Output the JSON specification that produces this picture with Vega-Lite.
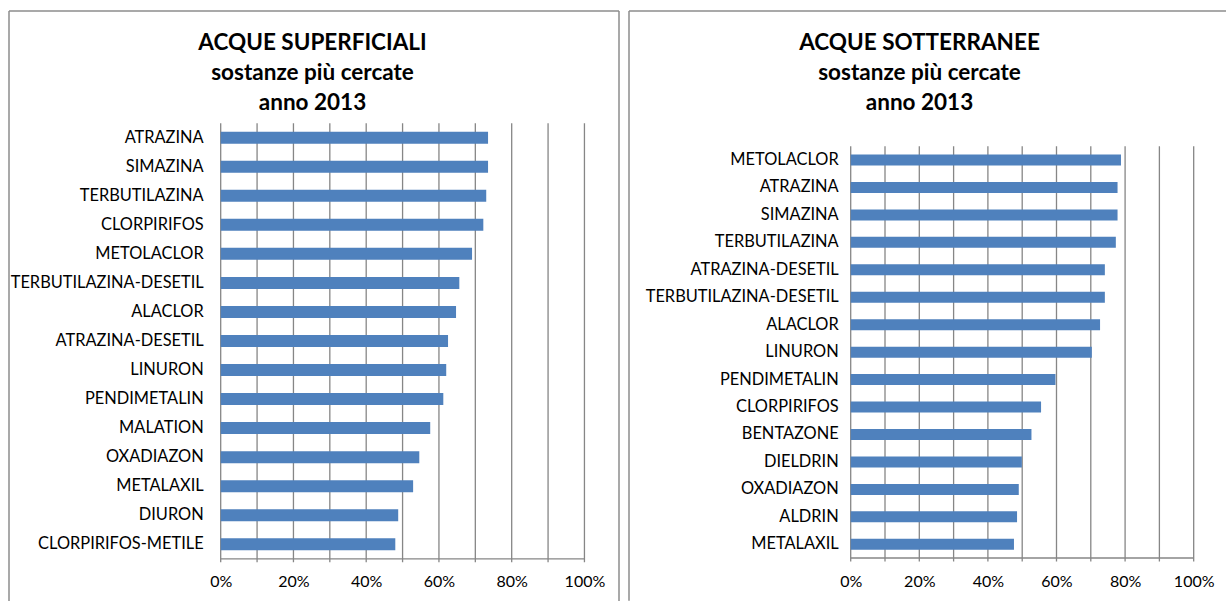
{
  "$schema": "https://vega.github.io/schema/vega-lite/v6.json",
  "padding": {"left": 8, "top": 10, "right": 0, "bottom": 0},
  "spacing": 10,
  "bounds": "flush",
  "background": "white",
  "config": {"view": {"stroke": null}, "font": "Lato"},
  "datasets": {
    "sup": [
      {"name": "ATRAZINA", "value": 0.735, "rank": 1},
      {"name": "SIMAZINA", "value": 0.735, "rank": 2},
      {"name": "TERBUTILAZINA", "value": 0.730, "rank": 3},
      {"name": "CLORPIRIFOS", "value": 0.722, "rank": 4},
      {"name": "METOLACLOR", "value": 0.691, "rank": 5},
      {"name": "TERBUTILAZINA-DESETIL", "value": 0.656, "rank": 6},
      {"name": "ALACLOR", "value": 0.647, "rank": 7},
      {"name": "ATRAZINA-DESETIL", "value": 0.625, "rank": 8},
      {"name": "LINURON", "value": 0.620, "rank": 9},
      {"name": "PENDIMETALIN", "value": 0.612, "rank": 10},
      {"name": "MALATION", "value": 0.576, "rank": 11},
      {"name": "OXADIAZON", "value": 0.546, "rank": 12},
      {"name": "METALAXIL", "value": 0.529, "rank": 13},
      {"name": "DIURON", "value": 0.488, "rank": 14},
      {"name": "CLORPIRIFOS-METILE", "value": 0.480, "rank": 15}
    ],
    "sot": [
      {"name": "METOLACLOR", "value": 0.788, "rank": 1},
      {"name": "ATRAZINA", "value": 0.778, "rank": 2},
      {"name": "SIMAZINA", "value": 0.778, "rank": 3},
      {"name": "TERBUTILAZINA", "value": 0.773, "rank": 4},
      {"name": "ATRAZINA-DESETIL", "value": 0.741, "rank": 5},
      {"name": "TERBUTILAZINA-DESETIL", "value": 0.741, "rank": 6},
      {"name": "ALACLOR", "value": 0.727, "rank": 7},
      {"name": "LINURON", "value": 0.703, "rank": 8},
      {"name": "PENDIMETALIN", "value": 0.597, "rank": 9},
      {"name": "CLORPIRIFOS", "value": 0.555, "rank": 10},
      {"name": "BENTAZONE", "value": 0.527, "rank": 11},
      {"name": "DIELDRIN", "value": 0.499, "rank": 12},
      {"name": "OXADIAZON", "value": 0.490, "rank": 13},
      {"name": "ALDRIN", "value": 0.485, "rank": 14},
      {"name": "METALAXIL", "value": 0.476, "rank": 15}
    ],
    "grid": [
      {"g": 0}, {"g": 0.1}, {"g": 0.2}, {"g": 0.3}, {"g": 0.4}, {"g": 0.5},
      {"g": 0.6}, {"g": 0.7}, {"g": 0.8}, {"g": 0.9}, {"g": 1}
    ],
    "one": [{}]
  },
  "hconcat": [
    {
      "width": 610,
      "height": 547.8,
      "title": {
        "text": ["ACQUE SUPERFICIALI", "sostanze più cercate", "anno 2013"],
        "font": "Lato", "fontSize": 22.5, "fontWeight": "bold", "lineHeight": 30,
        "color": "black", "offset": -104, "frame": "group", "anchor": "middle", "dx": -1.5
      },
      "layer": [
        {
          "data": {"name": "grid"},
          "mark": {"type": "rule", "color": "#868686", "strokeWidth": 1.3},
          "encoding": {
            "x": {"field": "g", "type": "quantitative",
              "scale": {"domain": [-0.582, 1.095], "nice": false, "zero": false},
              "axis": {"values": [0, 0.2, 0.4, 0.6, 0.8, 1], "format": ".0%", "grid": false, "ticks": false,
                "domain": false, "labelFont": "Lato", "labelFontSize": 16, "labelColor": "black",
                "labelPadding": 15, "title": null}},
            "y": {"datum": 0.5, "type": "quantitative",
              "scale": {"domain": [-3.363, 15.5], "reverse": true, "nice": false, "zero": false, "padding": 0}, "axis": null},
            "y2": {"datum": 15.62}
          }
        },
        {
          "data": {"name": "one"},
          "mark": {"type": "rule", "color": "#868686", "strokeWidth": 1.3},
          "encoding": {
            "x": {"datum": 0, "type": "quantitative", "scale": {"domain": [-0.582, 1.095], "nice": false, "zero": false}},
            "x2": {"datum": 1},
            "y": {"datum": 15.5, "type": "quantitative", "scale": {"domain": [-3.363, 15.5], "reverse": true, "nice": false, "zero": false, "padding": 0}, "axis": null}
          }
        },
        {
          "data": {"name": "sup"},
          "mark": {"type": "bar", "orient": "horizontal", "size": 12, "color": "#4f81bd"},
          "encoding": {
            "x": {"field": "value", "type": "quantitative", "scale": {"domain": [-0.582, 1.095], "nice": false, "zero": false}},
            "x2": {"datum": 0},
            "y": {"field": "rank", "type": "quantitative", "scale": {"domain": [-3.363, 15.5], "reverse": true, "nice": false, "zero": false, "padding": 0}, "axis": null}
          }
        },
        {
          "data": {"name": "sup"},
          "mark": {"type": "text", "align": "right", "baseline": "middle", "dx": -17, "font": "Lato", "fontSize": 16.4, "color": "black"},
          "encoding": {
            "x": {"datum": 0, "type": "quantitative", "scale": {"domain": [-0.582, 1.095], "nice": false, "zero": false}},
            "y": {"field": "rank", "type": "quantitative", "scale": {"domain": [-3.363, 15.5], "reverse": true, "nice": false, "zero": false, "padding": 0}, "axis": null},
            "text": {"field": "name"}
          }
        },
        {
          "data": {"name": "one"},
          "mark": {"type": "rule", "color": "#8c8c8c", "strokeWidth": 1.5},
          "encoding": {
            "x": {"datum": -0.582, "type": "quantitative", "scale": {"domain": [-0.582, 1.095], "nice": false, "zero": false}},
            "y": {"datum": -3.363, "type": "quantitative", "scale": {"domain": [-3.363, 15.5], "reverse": true, "nice": false, "zero": false, "padding": 0}, "axis": null},
            "y2": {"datum": 16.95}
          }
        },
        {
          "data": {"name": "one"},
          "mark": {"type": "rule", "color": "#8c8c8c", "strokeWidth": 1.5},
          "encoding": {
            "x": {"datum": 1.095, "type": "quantitative", "scale": {"domain": [-0.582, 1.095], "nice": false, "zero": false}},
            "y": {"datum": -3.363, "type": "quantitative", "scale": {"domain": [-3.363, 15.5], "reverse": true, "nice": false, "zero": false, "padding": 0}, "axis": null},
            "y2": {"datum": 16.95}
          }
        },
        {
          "data": {"name": "one"},
          "mark": {"type": "rule", "color": "#8c8c8c", "strokeWidth": 1.5},
          "encoding": {
            "x": {"datum": -0.582, "type": "quantitative", "scale": {"domain": [-0.582, 1.095], "nice": false, "zero": false}},
            "x2": {"datum": 1.095},
            "y": {"datum": -3.363, "type": "quantitative", "scale": {"domain": [-3.363, 15.5], "reverse": true, "nice": false, "zero": false, "padding": 0}, "axis": null}
          }
        }
      ]
    },
    {
      "width": 597,
      "height": 547,
      "title": {
        "text": ["ACQUE SOTTERRANEE", "sostanze più cercate", "anno 2013"],
        "font": "Lato", "fontSize": 22.5, "fontWeight": "bold", "lineHeight": 30,
        "color": "black", "offset": -104, "frame": "group", "anchor": "middle", "dx": -8
      },
      "layer": [
        {
          "data": {"name": "grid"},
          "mark": {"type": "rule", "color": "#868686", "strokeWidth": 1.3},
          "encoding": {
            "x": {"field": "g", "type": "quantitative",
              "scale": {"domain": [-0.6464, 1.0942], "nice": false, "zero": false},
              "axis": {"values": [0, 0.2, 0.4, 0.6, 0.8, 1], "format": ".0%", "grid": false, "ticks": false,
                "domain": false, "labelFont": "Lato", "labelFontSize": 16, "labelColor": "black",
                "labelPadding": 15, "title": null}},
            "y": {"datum": 0.5, "type": "quantitative",
              "scale": {"domain": [-4.428, 15.5], "reverse": true, "nice": false, "zero": false, "padding": 0}, "axis": null},
            "y2": {"datum": 15.63}
          }
        },
        {
          "data": {"name": "one"},
          "mark": {"type": "rule", "color": "#868686", "strokeWidth": 1.3},
          "encoding": {
            "x": {"datum": 0, "type": "quantitative", "scale": {"domain": [-0.6464, 1.0942], "nice": false, "zero": false}},
            "x2": {"datum": 1},
            "y": {"datum": 15.5, "type": "quantitative", "scale": {"domain": [-4.428, 15.5], "reverse": true, "nice": false, "zero": false, "padding": 0}, "axis": null}
          }
        },
        {
          "data": {"name": "sot"},
          "mark": {"type": "bar", "orient": "horizontal", "size": 11, "color": "#4f81bd"},
          "encoding": {
            "x": {"field": "value", "type": "quantitative", "scale": {"domain": [-0.6464, 1.0942], "nice": false, "zero": false}},
            "x2": {"datum": 0},
            "y": {"field": "rank", "type": "quantitative", "scale": {"domain": [-4.428, 15.5], "reverse": true, "nice": false, "zero": false, "padding": 0}, "axis": null}
          }
        },
        {
          "data": {"name": "sot"},
          "mark": {"type": "text", "align": "right", "baseline": "middle", "dx": -12, "font": "Lato", "fontSize": 16.4, "color": "black"},
          "encoding": {
            "x": {"datum": 0, "type": "quantitative", "scale": {"domain": [-0.6464, 1.0942], "nice": false, "zero": false}},
            "y": {"field": "rank", "type": "quantitative", "scale": {"domain": [-4.428, 15.5], "reverse": true, "nice": false, "zero": false, "padding": 0}, "axis": null},
            "text": {"field": "name"}
          }
        },
        {
          "data": {"name": "one"},
          "mark": {"type": "rule", "color": "#8c8c8c", "strokeWidth": 1.5},
          "encoding": {
            "x": {"datum": -0.6464, "type": "quantitative", "scale": {"domain": [-0.6464, 1.0942], "nice": false, "zero": false}},
            "y": {"datum": -4.428, "type": "quantitative", "scale": {"domain": [-4.428, 15.5], "reverse": true, "nice": false, "zero": false, "padding": 0}, "axis": null},
            "y2": {"datum": 17.06}
          }
        },
        {
          "data": {"name": "one"},
          "mark": {"type": "rule", "color": "#8c8c8c", "strokeWidth": 1.5},
          "encoding": {
            "x": {"datum": -0.6464, "type": "quantitative", "scale": {"domain": [-0.6464, 1.0942], "nice": false, "zero": false}},
            "x2": {"datum": 1.0942},
            "y": {"datum": -4.428, "type": "quantitative", "scale": {"domain": [-4.428, 15.5], "reverse": true, "nice": false, "zero": false, "padding": 0}, "axis": null}
          }
        }
      ]
    }
  ]
}
